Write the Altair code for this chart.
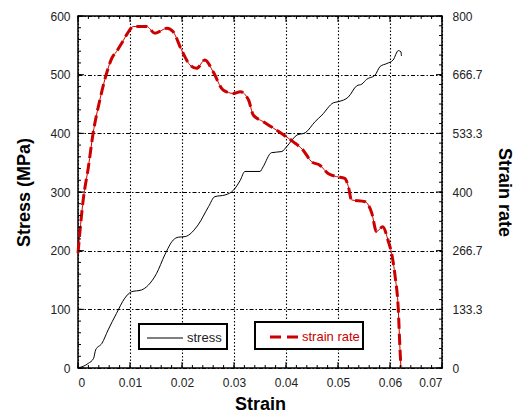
import altair as alt
import pandas as pd

# ---- data ----
strain_s = [0, 0.002, 0.003, 0.0034, 0.0046, 0.0058, 0.0074, 0.009, 0.0103, 0.0122,
            0.0135, 0.0151, 0.0167, 0.0183, 0.0193, 0.0206, 0.0231, 0.0251, 0.0263, 0.0283,
            0.0299, 0.0312, 0.0321, 0.035, 0.0356, 0.0372, 0.0392, 0.0401, 0.0421, 0.0437,
            0.0456, 0.0469, 0.0491, 0.0501, 0.052, 0.0536, 0.0546, 0.0555, 0.0571, 0.0581,
            0.0594, 0.0606, 0.0616, 0.0621, 0.0622]
stress = [0, 8, 16.5, 31, 42, 65, 93, 119, 130, 133,
          141, 161, 193, 218, 223, 224, 244, 275, 292, 295,
          303, 320, 335, 335, 343, 367, 369, 377, 397, 401,
          420, 431, 452, 454, 462, 481, 484, 492, 499, 514,
          519, 525, 541, 539, 532]

strain_r = [0, 0.001, 0.002, 0.0029, 0.0042, 0.0055, 0.0065, 0.0074, 0.0084, 0.0097,
            0.0106, 0.0132, 0.0148, 0.0171, 0.0183, 0.0199, 0.0215, 0.0228, 0.0244, 0.026,
            0.0279, 0.0299, 0.0312, 0.0328, 0.0337, 0.0356, 0.0376, 0.0395, 0.0414, 0.0433,
            0.0449, 0.0465, 0.0481, 0.0497, 0.0513, 0.052, 0.0526, 0.0552, 0.0565, 0.0574,
            0.0586, 0.0597, 0.0603, 0.061, 0.0616, 0.0619, 0.0621]
rate = [261, 382, 457, 533, 609, 670, 704, 719, 738, 764,
        776, 776, 761, 772, 764, 723, 689, 681, 700, 673,
        632, 624, 628, 609, 575, 560, 545, 530, 514, 495,
        469, 461, 442, 435, 431, 412, 382, 378, 352, 310,
        321, 287, 261, 207, 132, 48, 3]

x_ticks = [0, 0.01, 0.02, 0.03, 0.04, 0.05, 0.06, 0.07]
y_left_ticks = [0, 100, 200, 300, 400, 500, 600]
y_right_ticks = [0, 133.3, 266.7, 400, 533.3, 666.7, 800]
x_minor = [i * 0.002 for i in range(36)]
y_left_minor = [i * 20 for i in range(31)]
y_right_minor = [i * 800 / 36 for i in range(37)]

W, H = 364, 352

stress_df = pd.DataFrame({"strain": strain_s, "stress": stress, "i": range(len(strain_s))})
rate_df = pd.DataFrame({"strain": strain_r, "rate": rate, "i": range(len(strain_r))})
xmin_df = pd.DataFrame({"v": x_minor})
xmaj_df = pd.DataFrame({"v": x_ticks})
ylmin_df = pd.DataFrame({"v": y_left_minor})
ylmaj_df = pd.DataFrame({"v": y_left_ticks})
yrmin_df = pd.DataFrame({"v": y_right_minor})
yrmaj_df = pd.DataFrame({"v": y_right_ticks})

RED = "#cc0000"
FONT = "Liberation Sans"

xscale = alt.Scale(domain=[0, 0.07], nice=False)
yls = alt.Scale(domain=[0, 600], nice=False)
yrs = alt.Scale(domain=[0, 800], nice=False)

x_main = alt.X("strain:Q", scale=xscale, axis=alt.Axis(
    values=x_ticks, labelExpr="datum.value == 0 ? '0' : format(datum.value, '.2f')",
    title="Strain", grid=True, gridDash=[1.5, 2], gridColor="black", gridOpacity=1,
    gridWidth=1.1, ticks=False, domain=False, labelPadding=9, titlePadding=7))

stress_line = alt.Chart(stress_df).mark_line(
    color="black", strokeWidth=1, interpolate="monotone").encode(
    x=x_main,
    y=alt.Y("stress:Q", scale=yls, axis=alt.Axis(
        values=y_left_ticks, title="Stress (MPa)", grid=True, gridDash=[4, 2, 1.5, 2],
        gridColor="black", gridOpacity=1, gridWidth=1.1, ticks=False, domain=False,
        labelPadding=8, titlePadding=16)),
    order="i:Q")

y_rate = alt.Y("rate:Q", scale=yrs, axis=alt.Axis(
    orient="right", values=y_right_ticks, title="Strain rate", grid=False,
    labelExpr="datum.value % 1 == 0 ? format(datum.value, 'd') : format(datum.value, '.1f')",
    ticks=False, domain=False, labelPadding=10, titlePadding=12))
x_none = alt.X("strain:Q", scale=xscale, axis=None)

rate_thin = alt.Chart(rate_df).mark_line(
    color=RED, strokeWidth=1, interpolate="monotone").encode(x=x_none, y=y_rate, order="i:Q")
rate_thick = alt.Chart(rate_df).mark_line(
    color=RED, strokeWidth=3, strokeDash=[11, 5], interpolate="monotone").encode(
    x=x_none, y=y_rate, order="i:Q")
rate_layer = alt.layer(rate_thin, rate_thick)


# tick marks drawn inward on all four sides of the frame
def xticks_layer(df, length):
    xv = alt.X("v:Q", scale=xscale, axis=None)
    bot = alt.Chart(df).mark_rule(color="black", strokeWidth=1).encode(
        x=xv, y=alt.value(H - length), y2=alt.value(H))
    top = alt.Chart(df).mark_rule(color="black", strokeWidth=1).encode(
        x=xv, y=alt.value(0), y2=alt.value(length))
    return [bot, top]


def yticks_layer(df, scale, x0, x1):
    yv = alt.Y("v:Q", scale=scale, axis=None)
    return alt.Chart(df).mark_rule(color="black", strokeWidth=1).encode(
        y=yv, x=alt.value(x0), x2=alt.value(x1))


tick_layers = (
    xticks_layer(xmin_df, 3) + xticks_layer(xmaj_df, 6)
    + [yticks_layer(ylmin_df, yls, 0, 3), yticks_layer(ylmaj_df, yls, 0, 6),
       yticks_layer(yrmin_df, yrs, W - 3, W), yticks_layer(yrmaj_df, yrs, W - 6, W)]
)

one = alt.Data(values=[{}])
box1 = alt.Chart(one).mark_rect(fill="white", stroke="black", strokeWidth=2).encode(
    x=alt.value(61), x2=alt.value(149), y=alt.value(308), y2=alt.value(333))
line1 = alt.Chart(one).mark_rule(color="black", strokeWidth=1).encode(
    x=alt.value(69), x2=alt.value(105), y=alt.value(322))
text1 = alt.Chart(one).mark_text(
    text="stress", align="left", baseline="middle", font=FONT, fontSize=13, color="#222").encode(
    x=alt.value(109), y=alt.value(322))
box2 = alt.Chart(one).mark_rect(fill="white", stroke="black", strokeWidth=2).encode(
    x=alt.value(177), x2=alt.value(285), y=alt.value(306), y2=alt.value(333))
line2 = alt.Chart(one).mark_rule(color=RED, strokeWidth=3, strokeDash=[11, 6]).encode(
    x=alt.value(192), x2=alt.value(220), y=alt.value(321))
text2 = alt.Chart(one).mark_text(
    text="strain rate", align="left", baseline="middle", font=FONT, fontSize=13, color=RED).encode(
    x=alt.value(224), y=alt.value(321))

chart = alt.layer(
    stress_line, rate_layer, *tick_layers,
    box1, line1, text1, box2, line2, text2
).resolve_scale(y="independent").resolve_axis(x="independent", y="independent").properties(
    width=W, height=H,
    autosize=alt.AutoSizeParams(type="none"),
    padding={"left": 78, "top": 16, "right": 75, "bottom": 49},
    background="white",
).configure_view(stroke="black", strokeWidth=1.5).configure_axis(
    labelFont=FONT, labelFontSize=12, labelColor="#222",
    titleFont=FONT, titleFontSize=18, titleFontWeight="bold", titleColor="black",
)

chart.save("out.html", embed_options={"renderer": "svg", "actions": False})
